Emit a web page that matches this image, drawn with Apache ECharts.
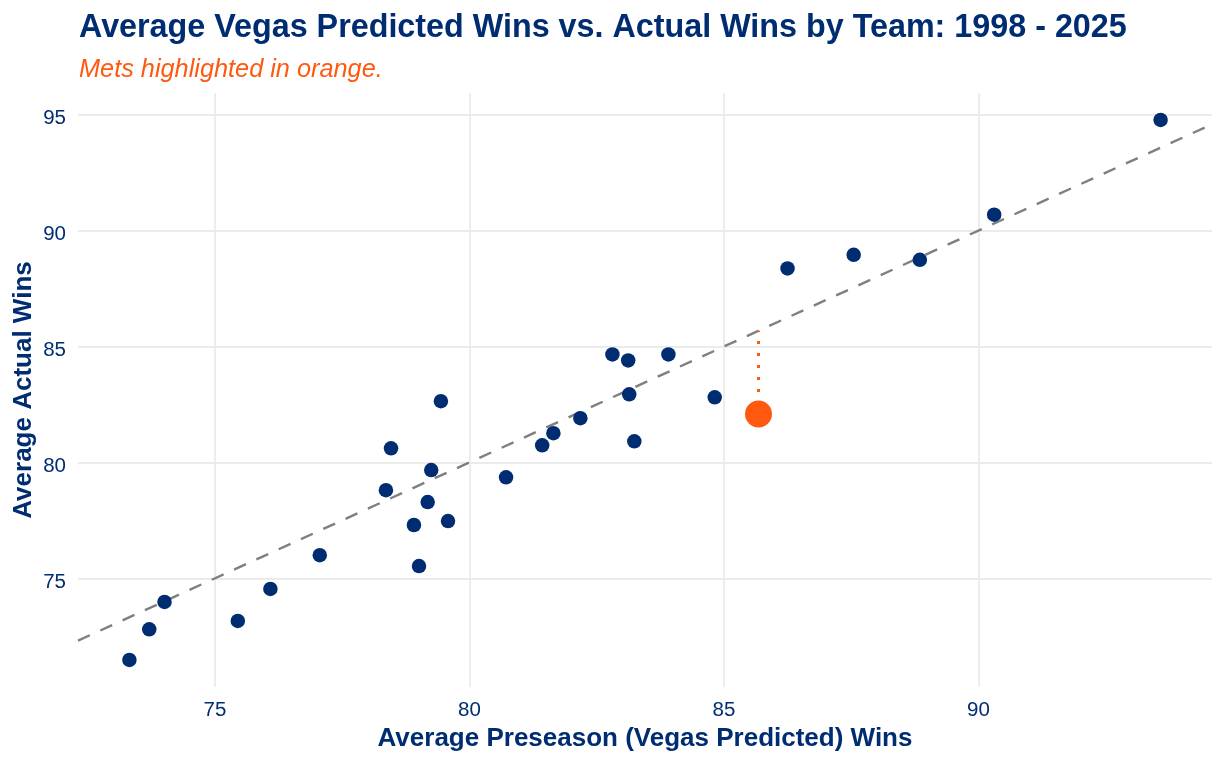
<!DOCTYPE html>
<html>
<head>
<meta charset="utf-8">
<title>Average Vegas Predicted Wins vs. Actual Wins</title>
<script src="https://cdn.jsdelivr.net/npm/echarts@6.0.0/dist/echarts.min.js"></script>
<style>
  html, body { margin: 0; padding: 0; background: #ffffff; }
  #chart { width: 1225px; height: 765px; }
</style>
</head>
<body>
<div id="chart"></div>
<script>
"use strict";

// averages per team, 1998 - 2025
const predictedWins = [
  73.32, 73.71, 74.01, 75.45, 76.09, 77.06, 78.36, 78.46, 78.91, 79.01,
  79.18, 79.25, 79.44, 79.58, 80.72, 81.43, 81.65, 82.18, 82.81, 83.12,
  83.14, 83.24, 83.91, 84.82, 86.25, 87.55, 88.85, 90.31, 93.58
];
const actualWins = [
  71.48, 72.80, 73.98, 73.16, 74.54, 76.00, 78.80, 80.61, 77.30, 75.53,
  78.29, 79.67, 82.64, 77.47, 79.36, 80.74, 81.26, 81.91, 84.66, 84.40,
  82.94, 80.91, 84.66, 82.81, 88.37, 88.96, 88.74, 90.69, 94.78
];
// Mets
const metsPredicted = 85.68;
const metsActual = 82.09;

// axis ranges (ggplot 5% expansion) and ticks
const xRange = [72.31, 94.59];
const yRange = [70.31, 95.94];
const xTicks = [75, 80, 85, 90];
const yTicks = [75, 80, 85, 90, 95];

const navy = '#002D72';
const orange = '#FF5910';
const fontFamily = '"Liberation Sans", Arial, sans-serif';

let myChart = echarts.init(document.getElementById('chart'));

let teamPoints = predictedWins.map(function (x, i) {
  return [x, actualWins[i]];
});

let option = {
  animation: false,
  backgroundColor: '#ffffff',
  title: [
    { // 标题
      text: 'Average Vegas Predicted Wins vs. Actual Wins by Team: 1998 - 2025',
      left: 79,
      top: 12,
      padding: 0,
      textStyle: { fontFamily: fontFamily, fontSize: 32.3, fontWeight: 'bold', color: navy },
    },
    { // 副标题
      text: 'Mets highlighted in orange.',
      left: 79,
      top: 57,
      padding: 0,
      textStyle: { fontFamily: fontFamily, fontSize: 25.3, fontStyle: 'italic', fontWeight: 'normal', color: orange },
    },
  ],
  grid: {
    left: 78,
    right: 13,
    top: 93,
    bottom: 78,
  },
  xAxis: {
    type: 'value',
    min: xRange[0],
    max: xRange[1],
    name: 'Average Preseason (Vegas Predicted) Wins',
    nameLocation: 'middle',
    nameGap: 39,
    nameTextStyle: { fontFamily: fontFamily, fontSize: 26, fontWeight: 'bold', color: navy },
    axisLine: { show: false },
    axisTick: { show: false, customValues: xTicks },
    axisLabel: {
      customValues: xTicks,
      margin: 13,
      fontFamily: fontFamily,
      fontSize: 20.5,
      color: navy,
    },
    splitLine: { show: true, lineStyle: { color: '#EBEBEB', width: 1.8 } },
  },
  yAxis: {
    type: 'value',
    min: yRange[0],
    max: yRange[1],
    name: 'Average Actual Wins',
    nameLocation: 'middle',
    nameGap: 41,
    nameMoveOverlap: false,
    nameTextStyle: { fontFamily: fontFamily, fontSize: 26, fontWeight: 'bold', color: navy },
    axisLine: { show: false },
    axisTick: { show: false, customValues: yTicks },
    axisLabel: {
      customValues: yTicks,
      margin: 12,
      fontFamily: fontFamily,
      fontSize: 20.5,
      color: navy,
      verticalAlign: 'top',
      lineHeight: 8,
    },
    splitLine: { show: true, lineStyle: { color: '#EBEBEB', width: 1.8 } },
  },
  series: [
    { // y = x 参考线
      type: 'line',
      data: [[xRange[0], xRange[0]], [xRange[1], xRange[1]]],
      symbol: 'none',
      silent: true,
      z: 1,
      lineStyle: { color: '#7F7F7F', width: 2.4, type: [13, 11.5] },
    },
    { // Mets: actual -> predicted
      type: 'line',
      data: [[metsPredicted, metsActual], [metsPredicted, metsPredicted]],
      symbol: 'none',
      silent: true,
      z: 2,
      lineStyle: { color: orange, width: 3, type: [3, 9], dashOffset: 2 },
    },
    {
      type: 'scatter',
      data: teamPoints,
      symbolSize: 14.5,
      z: 3,
      itemStyle: { color: navy, opacity: 1 },
    },
    {
      type: 'scatter',
      data: [[metsPredicted, metsActual]],
      symbolSize: 27,
      z: 4,
      itemStyle: { color: orange, opacity: 1 },
    },
  ],
};

myChart.setOption(option);
</script>
</body>
</html>
